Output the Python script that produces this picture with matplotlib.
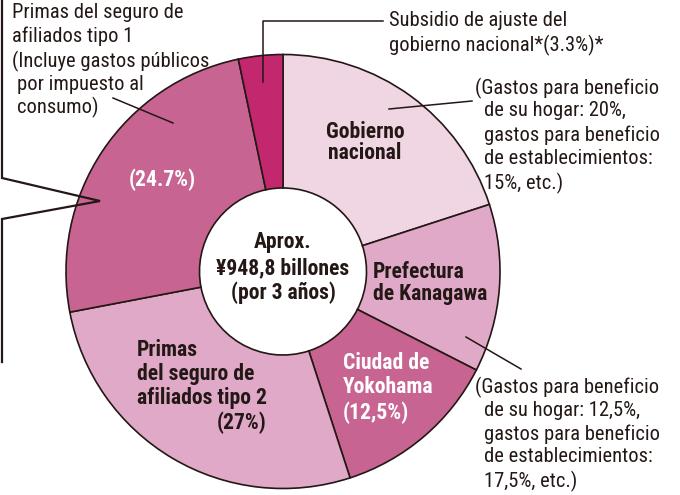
import matplotlib
matplotlib.use("Agg")
import matplotlib.pyplot as plt
from matplotlib import font_manager
from matplotlib.font_manager import FontProperties

# ---- data ----
categories = ["Gobierno nacional", "Prefectura de Kanagawa", "Ciudad de Yokohama",
              "Primas del seguro de afiliados tipo 2",
              "Primas del seguro de afiliados tipo 1",
              "Subsidio de ajuste del gobierno nacional"]
values = [20.0, 12.5, 12.5, 27.0, 24.7, 3.3]
colors = ["#f0d5e3", "#e0a9c7", "#c86491", "#e0a9c7", "#c86491", "#c3286f"]

DARK = "#231815"

ents = font_manager.fontManager.ttflist
picked = None
for cand in ["Liberation Sans Narrow", "Roboto Condensed", "Open Sans Condensed",
             "DejaVu Sans Condensed"]:
    m = [e for e in ents if e.name == cand and e.style == "normal"]
    if m:
        picked = cand
        break
if picked is None:
    m = [e for e in ents if e.style == "normal" and
         (e.stretch in ("condensed", "semi-condensed", "extra-condensed")
          or "Condensed" in e.name or "Narrow" in e.name)]
    if m:
        picked = m[0].name
if picked is None:
    picked = "Roboto"


def fp(weight, size):
    return FontProperties(family=[picked, "DejaVu Sans"], weight=weight, size=size)


fig = plt.figure(figsize=(6.8, 4.95), dpi=100)
ax = fig.add_axes([0, 0, 1, 1])

cx, cy, R, r_in = 283, 271.5, 217, 83.5
ax.pie(values, colors=colors, startangle=-90, counterclock=True,
       center=(cx, cy), radius=R, frame=False,
       wedgeprops=dict(width=R - r_in, edgecolor=DARK, linewidth=1.2))
ax.set_xlim(0, 680)
ax.set_ylim(495, 0)
ax.set_aspect("auto")
ax.axis("off")

NS, BS = 14.8, 15.6


def lines(x, ys, texts, size=NS, weight="normal", color=DARK, ha="left"):
    for y, t in zip(ys, texts):
        ax.text(x, y, t, fontproperties=fp(weight, size), color=color,
                ha=ha, va="center")


# callout bubble on the left
ax.plot([2, 2, 100, 2, 2], [-5, 178, 201, 219, 362], color=DARK, lw=1.6,
        solid_joinstyle="miter")

# leader lines
ax.plot([263, 263, 383], [82, 21, 21], color=DARK, lw=1.1)
ax.plot([113, 173], [98, 123], color=DARK, lw=1.1)
ax.plot([389, 472], [109, 101], color=DARK, lw=1.1)
ax.plot([466, 521], [337, 369], color=DARK, lw=1.1)

# outer texts
lines(12, [12, 36], ["Primas del seguro de", "afiliados tipo 1"])
lines(12, [61], ["(Incluye gastos públicos"])
lines(17, [85, 107], ["por impuesto al", "consumo)"])
lines(389, [20, 45], ["Subsidio de ajuste del", "gobierno nacional*(3.3%)*"])
lines(475, [88], ["(Gastos para beneficio"])
lines(484, [111, 135, 159, 183],
      ["de su hogar: 20%,", "gastos para beneficio", "de establecimientos:", "15%, etc.)"])
lines(475, [387], ["(Gastos para beneficio"])
lines(484, [410, 434, 457, 481],
      ["de su hogar: 12,5%,", "gastos para beneficio", "de establecimientos:", "17,5%, etc.)"])

# inner texts
lines(365, [132, 153], ["Gobierno", "nacional"], size=BS, weight="bold", ha="center")
lines(162, [180], ["(24.7%)"], size=BS, weight="bold", color="white", ha="center")
lines(373, [272, 294], ["Prefectura", "de Kanagawa"], size=BS, weight="bold")
lines(343, [363, 387, 413], ["Ciudad de", "Yokohama", "(12,5%)"], size=BS,
      weight="bold", color="white")
lines(137, [350, 374, 398], ["Primas", "del seguro de", "afiliados tipo 2"], size=BS,
      weight="bold")
lines(267, [423], ["(27%)"], size=BS, weight="bold", ha="right")
lines(283, [242, 268, 293], ["Aprox.", "¥948,8 billones", "(por 3 años)"], size=BS,
      weight="bold", ha="center")

fig.savefig("out.png", dpi=100)
